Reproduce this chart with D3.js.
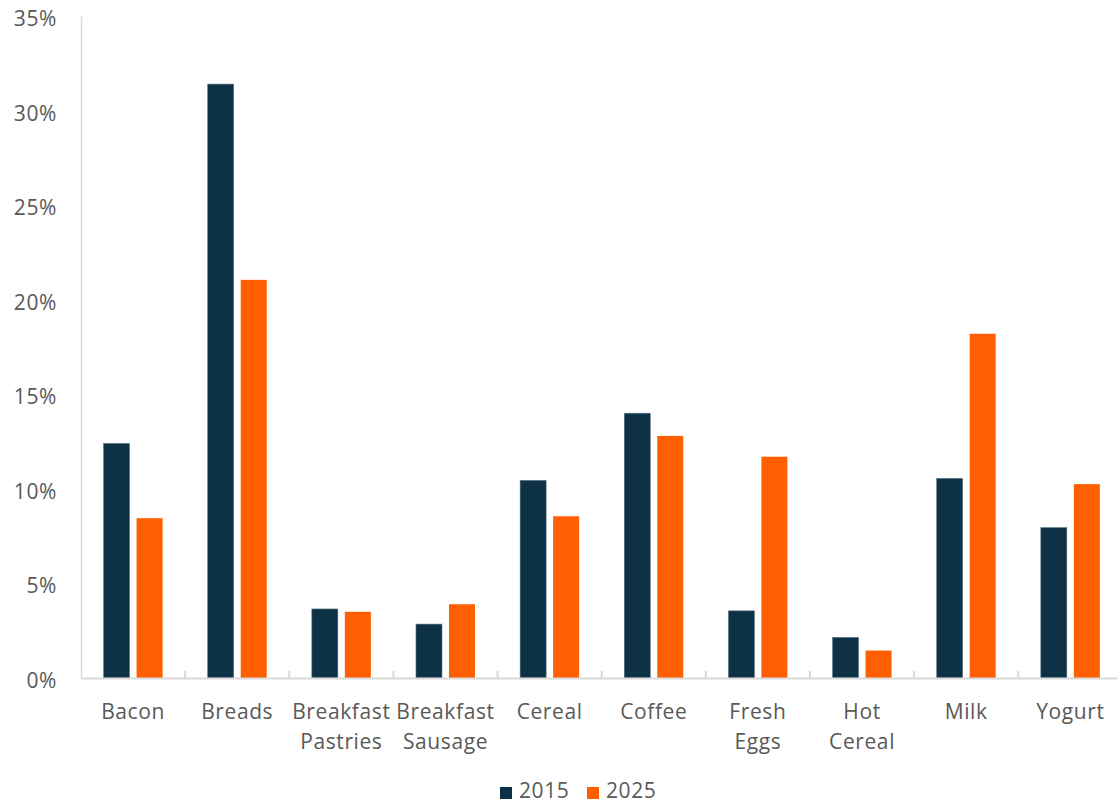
<!DOCTYPE html>
<html>
<head>
<meta charset="utf-8">
<script src="https://cdn.jsdelivr.net/npm/d3@7"></script>
<style>
  html, body { margin: 0; padding: 0; background: #fff; }
  svg { display: block; }
  text { font-family: "Open Sans", "Noto Sans", sans-serif; fill: #595959; letter-spacing: 0.6px; }
</style>
</head>
<body>
<svg id="chart" width="1117" height="803"></svg>
<script>
const categories = ["Bacon", "Breads", "Breakfast Pastries", "Breakfast Sausage", "Cereal", "Coffee", "Fresh Eggs", "Hot Cereal", "Milk", "Yogurt"];
const seriesNames = ["2015", "2025"];
const values2015 = [12.4, 31.4, 3.65, 2.85, 10.45, 14.0, 3.55, 2.15, 10.55, 7.95];
const values2025 = [8.45, 21.05, 3.5, 3.9, 8.55, 12.8, 11.7, 1.45, 18.2, 10.25];
const yTicks = [0, 5, 10, 15, 20, 25, 30, 35];
const colors = ["#0d3145", "#ff5f00"];

const data = categories.map((c, i) => ({ cat: c, vals: [values2015[i], values2025[i]] }));

const svg = d3.select("#chart");
const mLeft = 81, mRight = 1122.4, mTop = 16, mBottom = 678;
const fs = 21;

const x0 = d3.scaleBand().domain(categories).range([mLeft, mRight]).paddingInner(0).paddingOuter(0);
const x1 = d3.scaleBand().domain(seriesNames).range([0, x0.bandwidth()]).paddingInner(0.212).paddingOuter(0.684);
const y = d3.scaleLinear().domain([0, 35]).range([mBottom, mTop]);

// y axis
const yAxis = d3.axisLeft(y).tickValues(yTicks).tickFormat(d => d + "%").tickSize(0).tickPadding(24);
const gy = svg.append("g").attr("transform", `translate(${mLeft},0)`).call(yAxis);
gy.select(".domain").attr("stroke", "#d9d9d9").attr("stroke-width", 1.5);
gy.selectAll("text").attr("font-size", fs).attr("dy", "0.45em").style("fill", "#595959")
  .attr("font-family", "'Open Sans', sans-serif");

// bars
const groups = svg.append("g").selectAll("g").data(data).join("g")
  .attr("transform", d => `translate(${x0(d.cat)},0)`);
groups.selectAll("rect").data(d => d.vals.map((v, i) => ({ key: seriesNames[i], v, i })))
  .join("rect")
  .attr("x", d => x1(d.key))
  .attr("width", x1.bandwidth())
  .attr("y", d => y(d.v))
  .attr("height", d => mBottom - y(d.v))
  .attr("fill", d => colors[d.i])
  .attr("stroke", d => d.i === 0 ? "#5b7585" : "none")
  .attr("stroke-width", d => d.i === 0 ? 0.6 : 0);

// x axis
const xAxis = d3.axisBottom(x0).tickSize(0).tickFormat("");
const gx = svg.append("g").attr("transform", `translate(0,${mBottom})`).call(xAxis);
gx.select(".domain").attr("stroke", "#d9d9d9").attr("stroke-width", 2);
// boundary tick marks (inside)
const boundaries = categories.slice(1).map(c => x0(c));
svg.append("g").selectAll("line").data(boundaries).join("line")
  .attr("x1", d => d).attr("x2", d => d)
  .attr("y1", mBottom - 7).attr("y2", mBottom)
  .attr("stroke", "#d9d9d9").attr("stroke-width", 2);

// category labels
const lab = svg.append("g").selectAll("text").data(categories).join("text")
  .attr("x", d => x0(d) + x0.bandwidth() / 2)
  .attr("y", 719)
  .attr("text-anchor", "middle")
  .attr("font-size", fs);
lab.each(function(d) {
  const words = d.split(" ");
  const t = d3.select(this);
  words.forEach((w, i) => {
    t.append("tspan").attr("x", x0(d) + x0.bandwidth() / 2).attr("dy", i === 0 ? 0 : 30).text(w);
  });
});

// legend
const legend = svg.append("g");
const legendItems = [{ name: seriesNames[0], x: 500 }, { name: seriesNames[1], x: 587 }];
legendItems.forEach((it, i) => {
  legend.append("rect").attr("x", it.x).attr("y", 787).attr("width", 12).attr("height", 12).attr("fill", colors[i]);
  legend.append("text").attr("x", it.x + 19).attr("y", 798).attr("font-size", fs).text(it.name);
});
</script>
</body>
</html>
